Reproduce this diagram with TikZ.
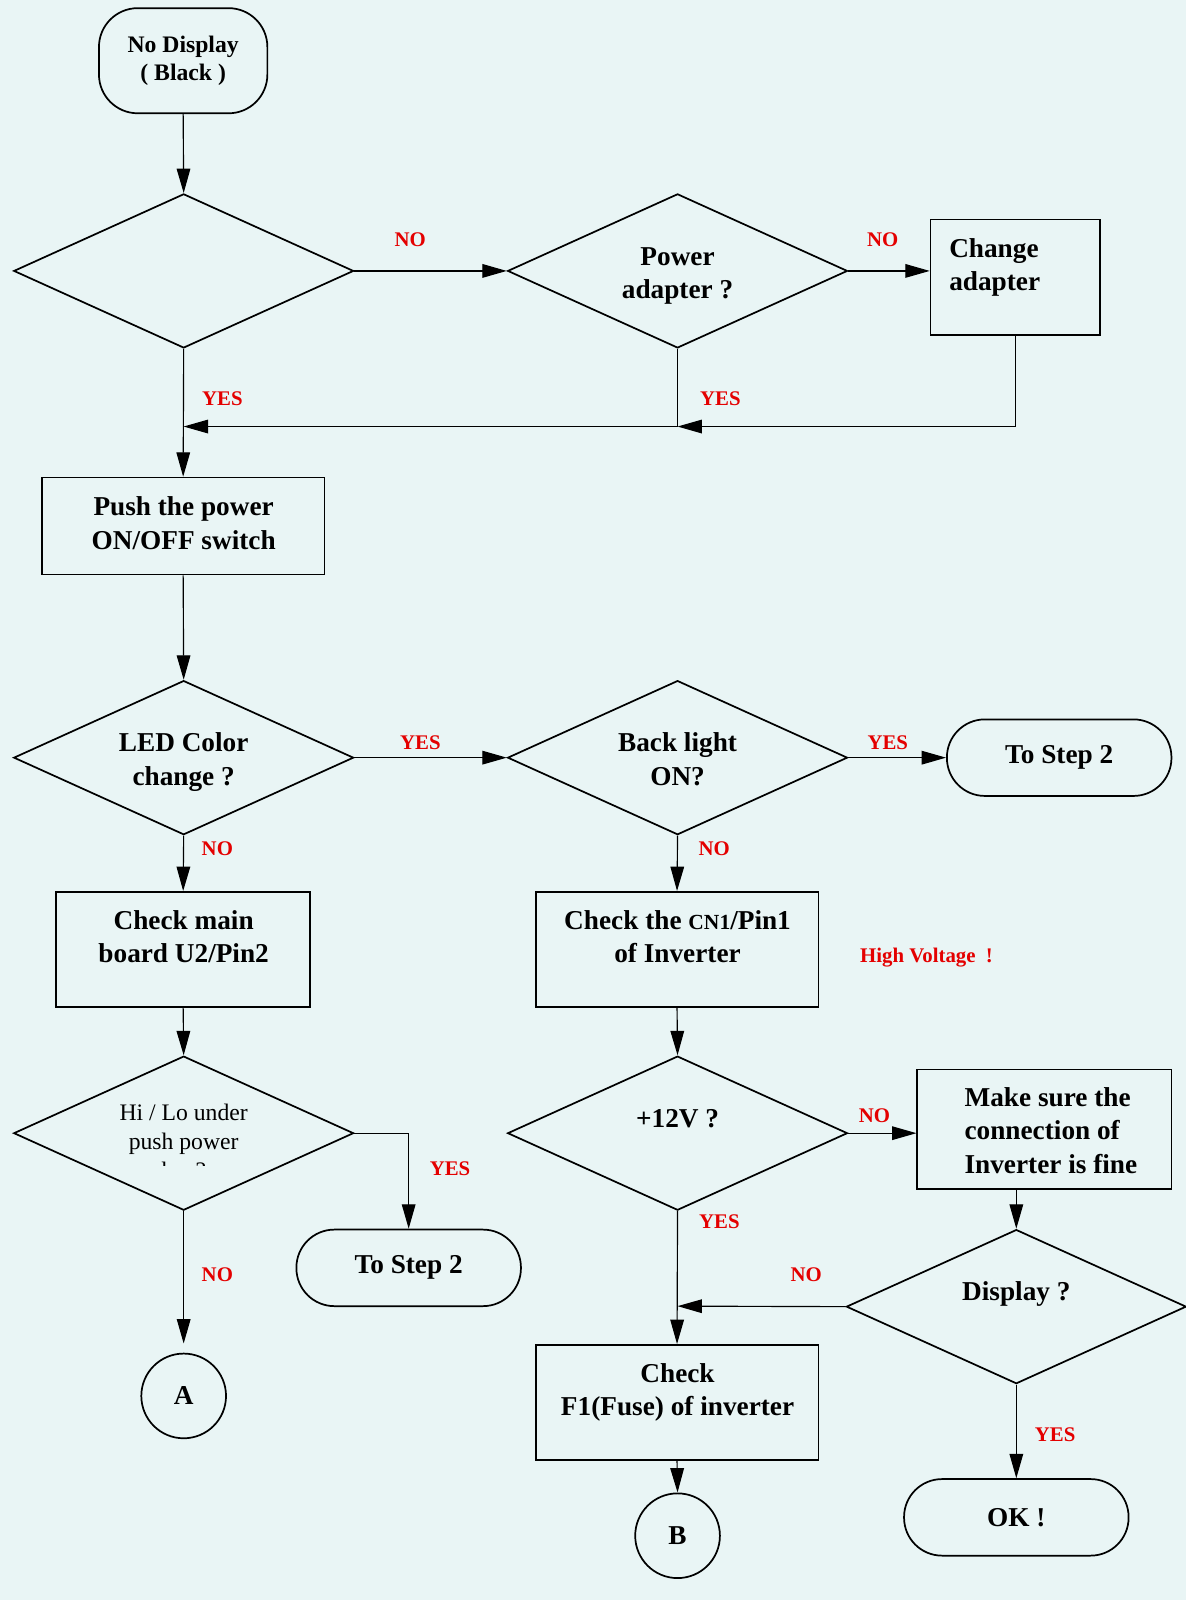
\documentclass[tikz,border=0pt]{standalone}
\usepackage{fontspec}
\setmainfont{Liberation Serif}
\usetikzlibrary{shapes.geometric,arrows.meta}
\definecolor{bg}{RGB}{233,245,245}
\definecolor{lblred}{RGB}{228,0,0}
\begin{document}
\begin{tikzpicture}[x=0.025cm,y=-0.025cm,
 shp/.style={draw,line width=1.2pt},
 dia/.style={shp,diamond,minimum width=8.325cm,minimum height=3.775cm,inner sep=0pt},
 box/.style={shp,rectangle,inner sep=0pt},
 term/.style={shp,rectangle,rounded corners=0.93cm,inner sep=0pt,minimum width=5.5cm,minimum height=1.875cm,font=\fontsize{19}{23.5}\selectfont\bfseries},
 conn/.style={shp,circle,minimum size=2.075cm,inner sep=0pt,font=\fontsize{19}{23.5}\selectfont\bfseries},
 txt/.style={font=\fontsize{19}{23.5}\selectfont\bfseries,align=center,inner sep=0pt},
 lbl/.style={font=\fontsize{14.5}{16}\selectfont\bfseries,text=lblred,inner sep=0pt},
 arr/.style={line width=0.8pt,-{Triangle[length=17pt,width=9.5pt]}},
 ln/.style={line width=0.8pt}]
\fill[bg] (0,0) rectangle (1162,1568);
\useasboundingbox (0,0) rectangle (1162,1568);

% start
\node[box,rounded corners=0.95cm,minimum width=4.125cm,minimum height=2.575cm,
      font=\fontsize{16.5}{20}\selectfont\bfseries,align=center] (start) at (179.5,59.5) {No Display\\( Black )};

% first row
\node[dia] (d1) at (180,265.5) {};
\node[dia] (d2) at (664,265.5) {};
\node[txt] (t2) at (664,270.5) {Power\\adapter ?};
\node[box,minimum width=4.15cm,minimum height=2.825cm] (chg) at (995,271.5) {};
\node[txt,align=left,anchor=west] (tchg) at (930,262) {Change\\adapter};

\coordinate (m2) at (664,418);
\coordinate (m1) at (180,418);

\node[box,minimum width=6.925cm,minimum height=2.375cm] (push) at (179.5,515.5) {};
\node[txt] (tpush) at (180,512.5) {Push the power\\ON/OFF switch};

% second row
\node[dia] (d3) at (180,742.5) {};
\node[txt] (t3) at (180,747) {LED Color\\change ?};
\node[dia] (d4) at (664,742.5) {};
\node[txt] (t4) at (664,744) {Back light\\ON?};
\node[term] (s2a) at (1038,742.5) {To Step 2};

\node[box,minimum width=6.225cm,minimum height=2.825cm] (chkmain) at (179.5,930.5) {};
\node[txt] (tchkmain) at (180,918) {Check main\\board U2/Pin2};
\node[box,minimum width=6.925cm,minimum height=2.825cm] (chkcn) at (663.5,930.5) {};
\node[txt] (tchkcn) at (664,918) {Check the {\fontsize{15}{18}\selectfont CN1}/Pin1\\of Inverter};
\node[lbl] (hv) at (908,938) {High Voltage\ \ !};

% third row
\node[dia] (d5) at (180,1110.5) {};
\begin{scope}
\clip (20,1040) rectangle (340,1142);
\node[font=\fontsize{16.5}{20}\selectfont,align=center,inner sep=0pt] (t5) at (180,1121) {Hi / Lo under\\push power\\key?};
\end{scope}
\node[dia] (d6) at (664,1110.5) {};
\node[txt] (t6) at (664,1096) {+12V ?};
\node[box,minimum width=6.225cm,minimum height=2.925cm] (mk) at (1023.5,1106.5) {};
\node[txt,align=left,anchor=west] (tmk) at (945,1108) {Make sure the\\connection of\\Inverter is fine};

\node[term] (s2b) at (400.5,1242.5) {To Step 2};
\node[conn] (ca) at (180,1368) {A};
\node[dia] (d7) at (996,1280.5) {};
\node[txt] (t7) at (996,1268) {Display ?};
\coordinate (m3) at (664,1280);
\node[box,minimum width=6.925cm,minimum height=2.825cm] (chkf) at (663.5,1374.5) {};
\node[txt] (tchkf) at (664,1364.5) {Check\\F1(Fuse) of inverter};
\node[conn] (cb) at (664,1505) {B};
\node[term] (ok) at (996,1487) {OK !};

% connectors
\draw[arr] (start.south) -- (d1.north);
\draw[arr] (d1.east) -- (d2.west);
\draw[arr] (d2.east) -- (d2.east -| chg.west);
\draw[arr] (chg.south) |- (m2);
\draw[ln] (d2.south) -- (m2);
\draw[arr] (m2) -- (m1);
\draw[arr] (d1.south) -- (push.north);
\draw[arr] (push.south) -- (d3.north);
\draw[arr] (d3.east) -- (d4.west);
\draw[arr] (d4.east) -- (s2a.west);
\draw[arr] (d3.south) -- (chkmain.north);
\draw[arr] (d4.south) -- (chkcn.north);
\draw[arr] (chkmain.south) -- (d5.north);
\draw[arr] (chkcn.south) -- (d6.north);
\draw[arr] (d5.east) -| (s2b.north);
\draw[arr,shorten >=0.225cm] (d5.south) -- (ca.north);
\draw[arr] (d6.east) -- (d6.east -| mk.west);
\draw[arr] (d7.north |- mk.south) -- (d7.north);
\draw[arr] (d7.west) -- (m3);
\draw[arr] (d6.south) -- (chkf.north);
\draw[arr] (chkf.south) -- (cb.north);
\draw[arr] (d7.south) -- (ok.north);

% labels
\node[lbl] at (402,235) {NO};
\node[lbl] at (865,235) {NO};
\node[lbl] at (218,391) {YES};
\node[lbl] at (706,391) {YES};
\node[lbl] at (412,728) {YES};
\node[lbl] at (870,728) {YES};
\node[lbl] at (213,832) {NO};
\node[lbl] at (700,832) {NO};
\node[lbl] at (441,1145) {YES};
\node[lbl] at (213,1249) {NO};
\node[lbl] at (857,1093) {NO};
\node[lbl] at (705,1197) {YES};
\node[lbl] at (790,1249) {NO};
\node[lbl] at (1034,1406) {YES};
\end{tikzpicture}
\end{document}
